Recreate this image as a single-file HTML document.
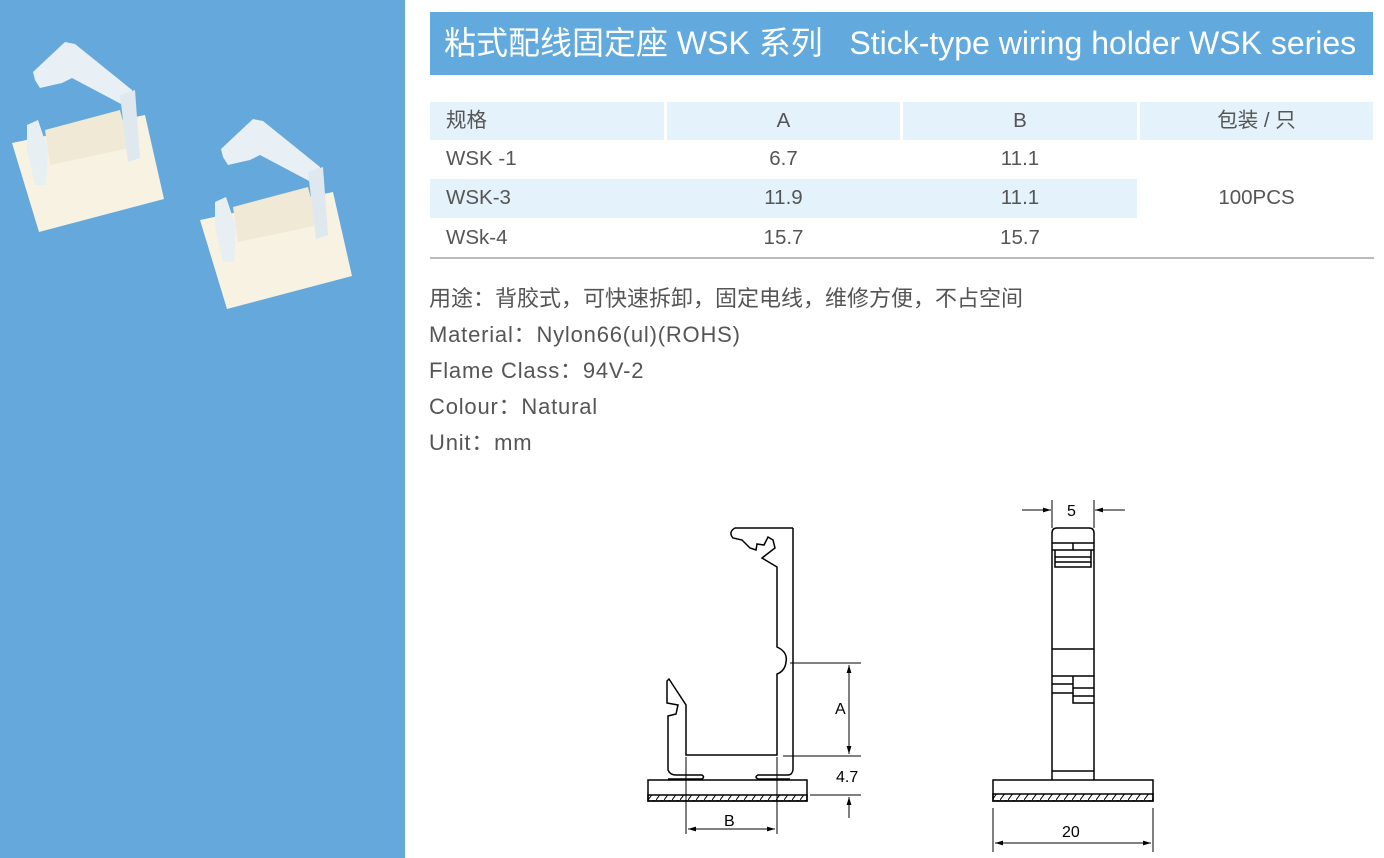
<!DOCTYPE html>
<html><head><meta charset="utf-8"><style>
body{margin:0;width:1384px;height:858px;background:#fff;position:relative;overflow:hidden;font-family:"Liberation Sans","Noto Sans CJK SC",sans-serif;color:#555}
.a{position:absolute}
.title{left:430px;top:12px;width:943px;height:63px;background:#62a9de;color:#fff;font-size:32px;line-height:63px;padding-left:14px;box-sizing:border-box;white-space:nowrap}
.c{position:absolute;font-size:20.5px;line-height:38px;height:38px}
.h{background:#e4f2fb}
.t{position:absolute;left:429px;font-size:22px;color:#555}
.l{letter-spacing:0.8px}
</style></head><body>
<div class="a" style="left:0;top:0;width:405px;height:858px;background:#64a8dc"></div>
<svg class="a" style="left:0;top:0" width="405" height="360">
 <defs><g id="p">
  <polygon points="12,143 145,115 164,199 39,232" fill="#f7f2e2"/>
  <polygon points="45,130 120,110 130,148 50,165" fill="#efe9d6"/>
  <polygon points="27,125 38,120 48,150 46,185 35,185 27,150" fill="#e8eff3"/>
  <polygon points="33,72 65,42 75,44 132,90 138,155 130,160 123,105 72,78 62,83 53,85 40,88 35,80" fill="#e8f0f6"/>
  <polygon points="120,95 135,90 140,158 128,162" fill="#dfe8ef"/>
 </g></defs>
 <use href="#p" transform="translate(0,0)"/>
 <use href="#p" transform="translate(188,77)"/>
</svg>
<div class="a title">粘式配线固定座 WSK 系列&nbsp;&nbsp;&nbsp;Stick-type wiring holder WSK series</div>
<div class="c h" style="left:430px;top:102px;width:234px;padding-left:16px;box-sizing:border-box">规格</div>
<div class="c h" style="left:667px;top:102px;width:233px;text-align:center">A</div>
<div class="c h" style="left:903px;top:102px;width:234px;text-align:center">B</div>
<div class="c h" style="left:1140px;top:102px;width:233px;text-align:center">包装 / 只</div>
<div class="a h" style="left:430px;top:179px;width:707px;height:39px"></div>
<div class="c" style="left:446px;top:140px">WSK -1</div>
<div class="c" style="left:667px;top:140px;width:233px;text-align:center">6.7</div>
<div class="c" style="left:903px;top:140px;width:234px;text-align:center">11.1</div>
<div class="c" style="left:446px;top:179px">WSK-3</div>
<div class="c" style="left:667px;top:179px;width:233px;text-align:center">11.9</div>
<div class="c" style="left:903px;top:179px;width:234px;text-align:center">11.1</div>
<div class="c" style="left:1140px;top:179px;width:233px;text-align:center">100PCS</div>
<div class="c" style="left:446px;top:219px">WSk-4</div>
<div class="c" style="left:667px;top:219px;width:233px;text-align:center">15.7</div>
<div class="c" style="left:903px;top:219px;width:234px;text-align:center">15.7</div>
<div class="a" style="left:430px;top:257px;width:944px;height:2px;background:#bbb"></div>
<div class="t" style="top:281px">用途：背胶式，可快速拆卸，固定电线，维修方便，不占空间</div>
<div class="t l" style="top:317px">Material：Nylon66(ul)(ROHS)</div>
<div class="t l" style="top:353px">Flame Class：94V-2</div>
<div class="t l" style="top:389px">Colour：Natural</div>
<div class="t l" style="top:425px">Unit：mm</div>
<svg class="a" style="left:0;top:0" width="1384" height="858" font-family="Liberation Sans,sans-serif" font-size="14" fill="none" stroke="#000" stroke-width="1.5">
 <defs>
  <marker id="ar" viewBox="0 0 10 10" refX="10" refY="5" markerWidth="8" markerHeight="8" orient="auto-start-reverse"><path d="M0,2 L10,5 L0,8z" fill="#000" stroke="none"/></marker>
  <pattern id="hb" width="8" height="8" patternUnits="userSpaceOnUse"><path d="M0,8 L6,0" stroke="#000" stroke-width="1"/></pattern>
 </defs>
 <path d="M793,528 L735,528 Q728,532 733,538 L742,540 L750,548 L756,550 L757,544 L764,545 L768,537 L773,540 L775,548 L762,558 L777,567 L777,647 Q788,652 786,662 Q785,671 777,674 L777,755 L686,755 L686,705 L669,679 L667,681 L667,703 L678,705 L676,714 L668,716 L668,770 Q670,775 676,775 L702,775 Q705,777 702,779 L668,779"/>
 <path d="M793,528 L793,770 Q792,775 788,775 L758,775 Q754,777 758,779 L790,779"/>
 <rect x="648" y="780" width="159" height="21"/>
 <rect x="648" y="795" width="159" height="6" fill="url(#hb)"/>
 <g stroke-width="1">
  <path d="M686,757V834M777,757V834"/>
  <path d="M688,829H775" marker-start="url(#ar)" marker-end="url(#ar)"/>
  <path d="M790,663H861M783,756H861M810,795H861"/>
  <path d="M849,665V754" marker-start="url(#ar)" marker-end="url(#ar)"/>
  <path d="M849,818V797" marker-end="url(#ar)"/>
 </g>
 <g fill="#000" stroke="none" font-size="16">
  <text x="835" y="714">A</text><text x="836" y="782">4.7</text><text x="724" y="826">B</text>
 </g>
 <path d="M1052,780 V533 Q1052,528 1057,528 H1089 Q1094,528 1094,533 V780"/>
 <path d="M1052,543H1094M1073,543V550M1052,550H1094M1055,550V567H1091V550M1055,557H1091M1055,562H1091M1052,649H1094M1052,771H1094"/>
 <path d="M1052,676H1073V693H1052M1052,684H1073M1073,676H1094M1073,684V703H1094M1073,688H1094M1073,696H1094"/>
 <rect x="993" y="780" width="160" height="21"/>
 <rect x="993" y="794" width="160" height="7" fill="url(#hb)"/>
 <g stroke-width="1">
  <path d="M1052,500V528M1094,500V528"/>
  <path d="M1022,510H1051" marker-end="url(#ar)"/>
  <path d="M1125,510H1095" marker-end="url(#ar)"/>
  <path d="M993,808V852M1153,808V852"/>
  <path d="M995,843H1151" marker-start="url(#ar)" marker-end="url(#ar)"/>
 </g>
 <g fill="#000" stroke="none" font-size="16">
  <text x="1067" y="516">5</text><text x="1062" y="837">20</text>
 </g>
</svg>
</body></html>
